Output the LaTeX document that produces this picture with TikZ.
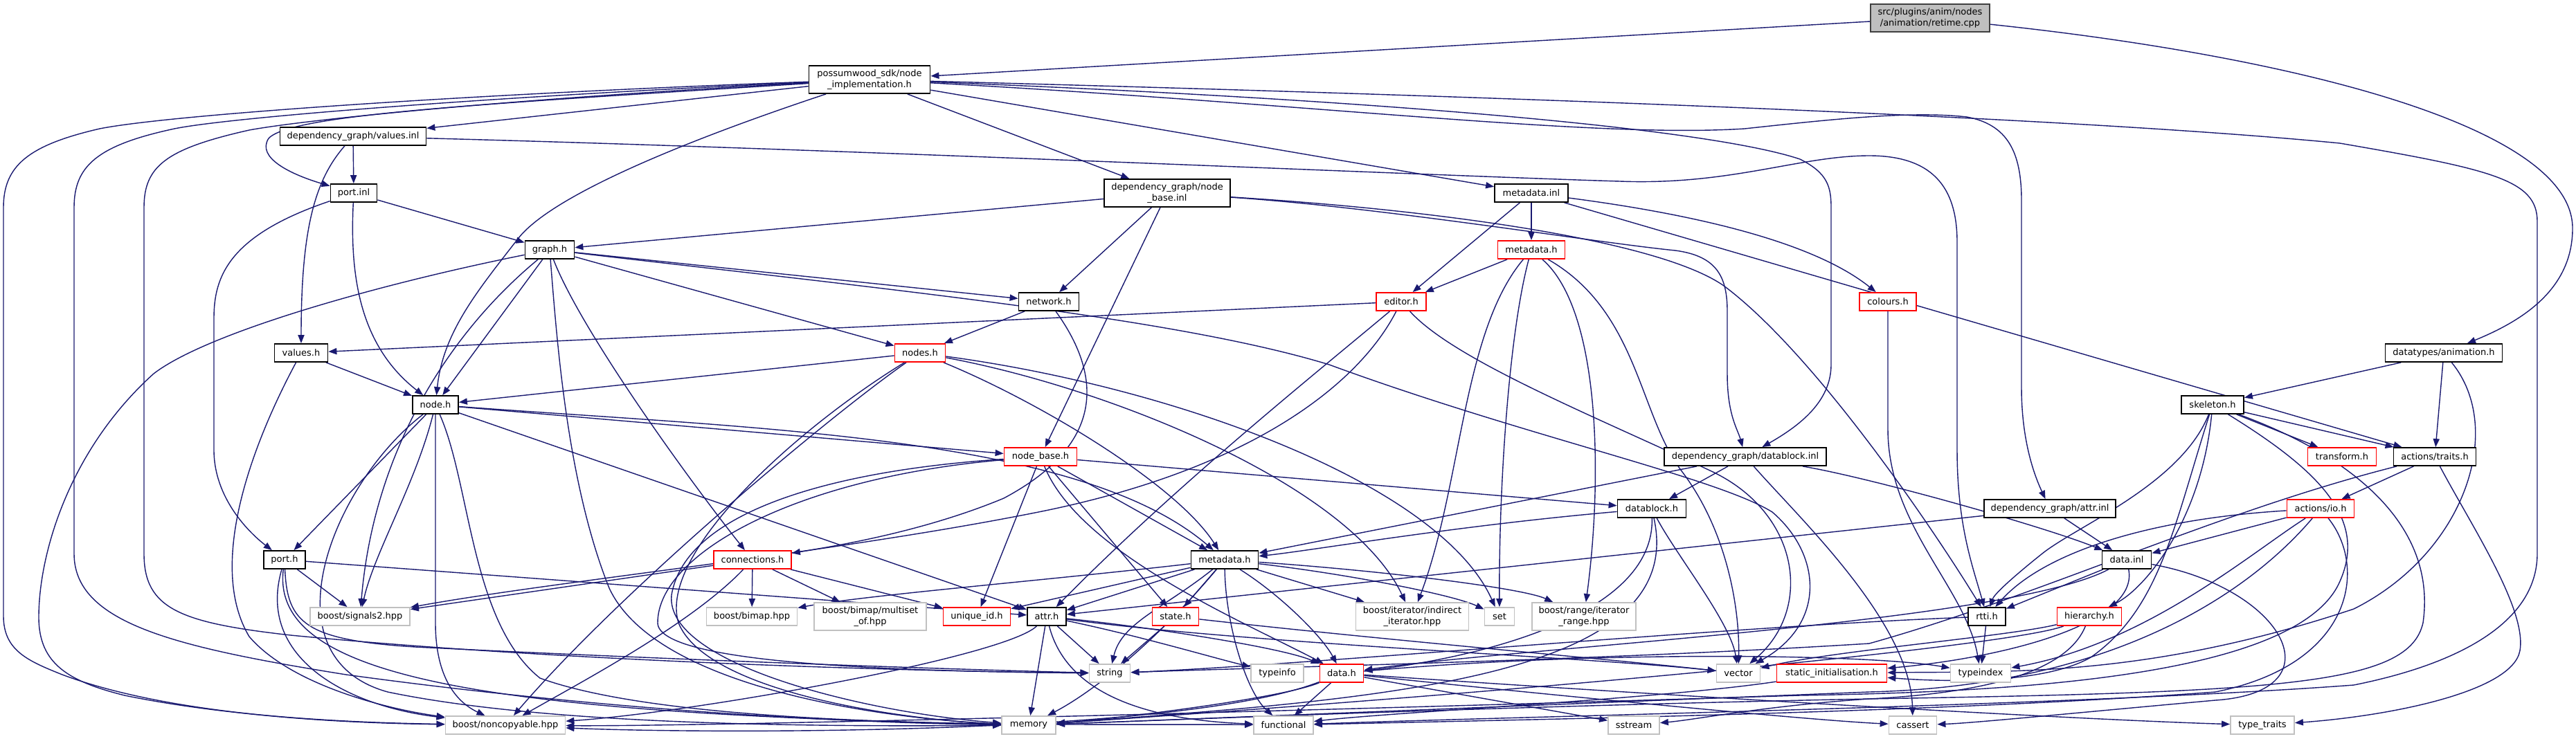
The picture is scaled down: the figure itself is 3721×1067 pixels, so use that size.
\documentclass[tikz,border=0pt]{standalone}
\usepackage{fontspec}
\setmainfont{DejaVu Sans}
\usetikzlibrary{arrows.meta}
\definecolor{edgec}{HTML}{191970}
\definecolor{grayb}{HTML}{C0C0C0}
\definecolor{redb}{HTML}{FF0000}
\definecolor{rootf}{HTML}{BFBFBF}
\begin{document}
\begin{tikzpicture}[x=0.5pt,y=-0.5pt,
  base/.style={rectangle,inner sep=0pt,minimum height=13pt,align=center,font=\fontsize{6.5}{7.6}\selectfont,line width=0.9pt,fill=white},
  two/.style={minimum height=20pt},
  blk/.style={base,draw=black},
  rd/.style={base,draw=redb},
  gy/.style={base,draw=grayb},
  root/.style={base,draw=black!75,fill=rootf},
  e/.style={draw=edgec,line width=0.7pt,-{Triangle[length=6pt,width=4.6pt]}}]
\fill[white] (0,0) rectangle (3721,1067);
\useasboundingbox (0,0) rectangle (3721,1067);
% edges first (drawn under nodes)
\begin{scope}[on background layer/.style={}]
\end{scope}
% ---------- nodes (coordinates) ----------
\path
 node[root,two,minimum width=86pt] (rt) at (2788,26) {src/plugins/anim/nodes\\/animation/retime.cpp}
 node[blk,two,minimum width=87.5pt] (pw) at (1256,115) {possumwood\_sdk/node\\\_implementation.h}
 node[blk,minimum width=105.5pt] (vinl) at (510,197) {dependency\_graph/values.inl}
 node[blk,minimum width=33.5pt] (pinl) at (511,279) {port.inl}
 node[blk,two,minimum width=91pt] (nbinl) at (1686,279) {dependency\_graph/node\\\_base.inl}
 node[blk,minimum width=53pt] (minl) at (2212,279) {metadata.inl}
 node[blk,minimum width=35.5pt] (gh) at (794,361) {graph.h}
 node[blk,minimum width=43.5pt] (nw) at (1515,436) {network.h}
 node[rd,minimum width=48.5pt] (mdr) at (2212,361) {metadata.h}
 node[rd,minimum width=36pt] (ed) at (2024,436) {editor.h}
 node[rd,minimum width=41pt] (col) at (2727,436) {colours.h}
 node[blk,minimum width=38.5pt] (vh) at (435,510) {values.h}
 node[rd,minimum width=36.5pt] (nds) at (1329,510) {nodes.h}
 node[blk,minimum width=84.5pt] (anim) at (3530,510) {datatypes/animation.h}
 node[blk,minimum width=33pt] (nh) at (629,585) {node.h}
 node[blk,minimum width=45pt] (sk) at (3196,585) {skeleton.h}
 node[rd,minimum width=52.5pt] (nbh) at (1503,660) {node\_base.h}
 node[rd,minimum width=49.5pt] (tf) at (3383,660) {transform.h}
 node[blk,minimum width=59.5pt] (tr) at (3517,660) {actions/traits.h}
 node[blk,minimum width=117pt] (dbinl) at (2521,660) {dependency\_graph/datablock.inl}
 node[blk,minimum width=49.5pt] (dbh) at (2386,735) {datablock.h}
 node[blk,minimum width=95pt] (ainl) at (2961,735) {dependency\_graph/attr.inl}
 node[rd,minimum width=48.5pt] (io) at (3352,735) {actions/io.h}
 node[blk,minimum width=30pt] (ph) at (411,809) {port.h}
 node[rd,minimum width=56pt] (con) at (1087,809) {connections.h}
 node[blk,minimum width=48.5pt] (mdb) at (1769,809) {metadata.h}
 node[blk,minimum width=35.5pt] (dinl) at (3072,809) {data.inl}
 node[gy,minimum width=72pt] (sig) at (520,891) {boost/signals2.hpp}
 node[gy,minimum width=65.5pt] (bim) at (1086,891) {boost/bimap.hpp}
 node[gy,two,minimum width=81pt] (mso) at (1257,891) {boost/bimap/multiset\\\_of.hpp}
 node[rd,minimum width=48.5pt] (uid) at (1411,891) {unique\_id.h}
 node[blk,minimum width=28pt] (attr) at (1512,891) {attr.h}
 node[rd,minimum width=33.5pt] (st) at (1698,891) {state.h}
 node[gy,two,minimum width=81.5pt] (ind) at (2040,891) {boost/iterator/indirect\\\_iterator.hpp}
 node[gy,minimum width=21.5pt] (set) at (2166,891) {set}
 node[gy,two,minimum width=75pt] (rng) at (2288,891) {boost/range/iterator\\\_range.hpp}
 node[blk,minimum width=27pt] (rtti) at (2870,891) {rtti.h}
 node[rd,minimum width=46.5pt] (hier) at (3018,891) {hierarchy.h}
 node[gy,minimum width=29.5pt] (str) at (1603,973) {string}
 node[gy,minimum width=38pt] (ti) at (1845,973) {typeinfo}
 node[rd,minimum width=31.5pt] (dh) at (1938,973) {data.h}
 node[gy,minimum width=31.5pt] (vec) at (2511,973) {vector}
 node[rd,minimum width=79.5pt] (si) at (2646,973) {static\_initialisation.h}
 node[gy,minimum width=43.5pt] (tidx) at (2861,973) {typeindex}
 node[gy,minimum width=86.5pt] (nc) at (730,1048) {boost/noncopyable.hpp}
 node[gy,minimum width=39pt] (mem) at (1486,1048) {memory}
 node[gy,minimum width=43pt] (fn) at (1854,1048) {functional}
 node[gy,minimum width=37pt] (ss) at (2360,1048) {sstream}
 node[gy,minimum width=34.5pt] (ca) at (2763,1048) {cassert}
 node[gy,minimum width=46pt] (tt) at (3268,1048) {type\_traits};
% ---------- edges ----------
% retime
\draw[e] (rt) -- (pw);
\draw[e] (rt) .. controls (3300,80) and (3716,180) .. (3716,330) .. controls (3716,420) and (3640,465) .. (anim);
% possumwood
\draw[e] (pw) -- (vinl);
\draw[e] (pw) .. controls (700,150) and (420,165) .. (388,200) .. controls (370,228) and (420,252) .. (pinl);
\draw[e] (pw) .. controls (700,135) and (250,165) .. (144,186) .. controls (40,210) and (5,240) .. (5,300) -- (5,890) .. controls (5,940) and (40,955) .. (90,975) .. controls (250,1035) and (500,1045) .. (nc);
\draw[e] (pw) .. controls (700,140) and (330,170) .. (252,186) .. controls (140,210) and (107,240) .. (107,300) -- (107,800) .. controls (107,900) and (250,935) .. (500,975) .. controls (900,1030) and (1250,1045) .. (mem);
\draw[e] (pw) .. controls (700,145) and (430,175) .. (360,188) .. controls (240,215) and (208,240) .. (208,300) -- (208,800) .. controls (208,880) and (260,900) .. (420,918) .. controls (800,955) and (1300,970) .. (str);
\draw[e] (pw) .. controls (1000,200) and (800,280) .. (749,344) .. controls (690,420) and (640,480) .. (nh);
\draw[e] (pw) -- (nbinl);
\draw[e] (pw) -- (minl);
\draw[e] (pw) .. controls (1900,140) and (2450,180) .. (2600,230) .. controls (2640,250) and (2645,270) .. (2645,300) -- (2645,527) .. controls (2645,580) and (2600,615) .. (dbinl);
\draw[e] (pw) .. controls (1900,150) and (2300,200) .. (2520,186) .. controls (2650,172) and (2760,160) .. (2841,169) .. controls (2900,180) and (2920,220) .. (2920,290) -- (2920,560) .. controls (2920,640) and (2940,690) .. (ainl);
\draw[e] (pw) .. controls (2200,140) and (3000,170) .. (3380,207) .. controls (3600,245) and (3665,260) .. (3665,320) -- (3665,800) .. controls (3665,900) and (3550,960) .. (3400,990) .. controls (3000,1020) and (2200,1035) .. (fn);
% values.inl
\draw[e] (vinl) -- (pinl);
\draw[e] (vinl) .. controls (455,260) and (435,330) .. (vh);
\draw[e] (vinl) .. controls (1200,215) and (2100,255) .. (2340,262) .. controls (2500,268) and (2600,225) .. (2700,225) .. controls (2800,225) and (2827,280) .. (2827,350) -- (2827,650) .. controls (2827,760) and (2850,820) .. (rtti);
% port.inl
\draw[e] (pinl) -- (gh);
\draw[e] (pinl) .. controls (505,400) and (520,500) .. (nh);
\draw[e] (pinl) .. controls (330,340) and (309,400) .. (309,460) -- (309,650) .. controls (309,720) and (360,770) .. (ph);
% node_base.inl
\draw[e] (nbinl) -- (gh);
\draw[e] (nbinl) -- (nw);
\draw[e] (nbinl) -- (nbh);
\draw[e] (nbinl) .. controls (2000,300) and (2300,350) .. (2420,362) .. controls (2480,370) and (2495,400) .. (2495,450) -- (2495,540) .. controls (2495,600) and (2510,620) .. (dbinl);
\draw[e] (nbinl) .. controls (2100,305) and (2400,350) .. (2490,413) .. controls (2620,510) and (2790,760) .. (rtti);
% metadata.inl
\draw[e] (minl) -- (mdr);
\draw[e] (minl) -- (ed);
\draw[e] (minl) .. controls (2450,310) and (2620,350) .. (col);
\draw[e] (minl) -- (tr);
% graph.h
\draw[e] (gh) -- (nh);
\draw[e] (gh) .. controls (650,480) and (540,650) .. (sig);
\draw[e] (gh) .. controls (550,410) and (300,480) .. (222,540) .. controls (100,650) and (56,800) .. (56,892) .. controls (56,960) and (100,985) .. (180,1005) .. controls (350,1040) and (550,1045) .. (nc);
\draw[e] (gh) .. controls (805,500) and (820,700) .. (880,850) .. controls (950,1000) and (1300,1040) .. (mem);
\draw[e] (gh) .. controls (840,480) and (1000,700) .. (con);
\draw[e] (gh) -- (nw);
\draw[e] (gh) -- (nds);
\draw[e] (gh) .. controls (1300,420) and (1700,460) .. (1920,527) .. controls (2200,630) and (2480,690) .. (2560,740) .. controls (2630,800) and (2640,900) .. (vec);
% network.h
\draw[e] (nw) -- (nds);
\draw[e] (nw) .. controls (1590,540) and (1600,640) .. (1450,720) .. controls (1330,770) and (1200,790) .. (con);
% metadata.h (sdk)
\draw[e] (mdr) -- (ed);
\draw[e] (mdr) .. controls (2112,480) and (2112,700) .. (ind);
\draw[e] (mdr) .. controls (2180,480) and (2165,700) .. (set);
\draw[e] (mdr) .. controls (2314,450) and (2314,700) .. (rng);
\draw[e] (mdr) .. controls (2367,450) and (2367,600) .. (2430,682) .. controls (2495,768) and (2513,880) .. (vec);
% editor.h
\draw[e] (ed) -- (vh);
\draw[e] (ed) .. controls (1900,540) and (1700,700) .. (attr);
\draw[e] (ed) .. controls (1960,560) and (1800,680) .. (1500,740) .. controls (1200,800) and (800,840) .. (sig);
\draw[e] (ed) .. controls (2100,520) and (2300,600) .. (2470,680) .. controls (2600,740) and (2620,880) .. (vec);
% colours.h
\draw[e] (col) -- (2727,620) .. controls (2727,760) and (2840,850) .. (tidx);
% values.h
\draw[e] (vh) -- (nh);
\draw[e] (vh) .. controls (360,650) and (300,820) .. (360,920) .. controls (420,990) and (560,1025) .. (nc);
% nodes.h
\draw[e] (nds) -- (nh);
\draw[e] (nds) .. controls (1200,600) and (900,850) .. (nc);
\draw[e] (nds) .. controls (1150,620) and (950,800) .. (980,900) .. controls (1020,1000) and (1300,1040) .. (mem);
\draw[e] (nds) .. controls (1500,580) and (1700,700) .. (mdb);
\draw[e] (nds) .. controls (1600,560) and (1950,700) .. (ind);
\draw[e] (nds) .. controls (1700,560) and (2080,700) .. (set);
% animation.h
\draw[e] (anim) -- (sk);
\draw[e] (anim) -- (tr);
\draw[e] (anim) .. controls (3620,620) and (3560,800) .. (3400,880) .. controls (3100,980) and (2900,970) .. (si);
% node.h
\draw[e] (nh) -- (ph);
\draw[e] (nh) .. controls (600,700) and (540,800) .. (sig);
\draw[e] (nh) -- (629,900) .. controls (629,980) and (660,1015) .. (nc);
\draw[e] (nh) -- (nbh);
\draw[e] (nh) .. controls (1100,620) and (1560,630) .. (mdb);
\draw[e] (nh) -- (attr);
\draw[e] (nh) .. controls (480,700) and (380,950) .. (560,1000) .. controls (800,1050) and (1200,1050) .. (mem);
\draw[e] (nh) .. controls (680,700) and (680,900) .. (780,980) .. controls (1000,1060) and (1600,1045) .. (fn);
% port.h
\draw[e] (ph) -- (sig);
\draw[e] (ph) -- (attr);
\draw[e] (ph) .. controls (370,950) and (500,1020) .. (nc);
\draw[e] (ph) .. controls (390,980) and (700,1030) .. (mem);
\draw[e] (ph) .. controls (415,900) and (440,925) .. (600,935) .. controls (1000,955) and (1400,968) .. (str);
% node_base.h
\draw[e] (nbh) -- (uid);
\draw[e] (nbh) -- (st);
\draw[e] (nbh) -- (mdb);
\draw[e] (nbh) -- (dbh);
\draw[e] (nbh) .. controls (1560,800) and (1800,900) .. (dh);
\draw[e] (nbh) .. controls (1200,680) and (990,740) .. (970,860) .. controls (960,960) and (1250,1030) .. (mem);
\draw[e] (nbh) .. controls (1150,690) and (950,800) .. (950,900) .. controls (950,960) and (1300,970) .. (str);
% connections.h
\draw[e] (con) -- (bim);
\draw[e] (con) -- (mso);
\draw[e] (con) -- (uid);
\draw[e] (con) -- (sig);
\draw[e] (con) .. controls (1000,900) and (850,980) .. (nc);
% metadata.h (dependency_graph)
\draw[e] (mdb) .. controls (1500,840) and (1250,860) .. (bim);
\draw[e] (mdb) -- (uid);
\draw[e] (mdb) -- (attr);
\draw[e] (mdb) -- (st);
\draw[e] (mdb) .. controls (1680,880) and (1620,900) .. (str);
\draw[e] (mdb) .. controls (1770,900) and (1800,1000) .. (fn);
\draw[e] (mdb) -- (ind);
\draw[e] (mdb) .. controls (1950,830) and (2100,860) .. (set);
\draw[e] (mdb) .. controls (2000,825) and (2200,850) .. (rng);
\draw[e] (mdb) .. controls (1850,860) and (1910,920) .. (dh);
\draw[e] (mdb) .. controls (1650,950) and (1560,1010) .. (mem);
% attr.h
\draw[e] (attr) -- (str);
\draw[e] (attr) -- (mem);
\draw[e] (attr) .. controls (1540,1000) and (1650,1040) .. (fn);
\draw[e] (attr) .. controls (1650,920) and (1750,950) .. (ti);
\draw[e] (attr) .. controls (1650,905) and (1850,935) .. (dh);
\draw[e] (attr) .. controls (1450,950) and (1000,1030) .. (nc);
\draw[e] (attr) .. controls (1800,930) and (2300,950) .. (vec);
% state.h
\draw[e] (st) -- (str);
\draw[e] (st) .. controls (2000,925) and (2350,955) .. (vec);
% data.h
\draw[e] (dh) .. controls (1850,1010) and (1600,1040) .. (mem);
\draw[e] (dh) -- (fn);
\draw[e] (dh) -- (ss);
\draw[e] (dh) .. controls (2200,1000) and (2600,1040) .. (ca);
\draw[e] (dh) .. controls (2400,1005) and (3000,1040) .. (tt);
\draw[e] (dh) .. controls (1700,1065) and (1000,1060) .. (nc);
\draw[e] (dh) .. controls (2300,940) and (2700,945) .. (tidx);
% datablock.h
\draw[e] (dbh) .. controls (2100,760) and (1900,795) .. (mdb);
\draw[e] (dbh) .. controls (2420,800) and (2500,900) .. (vec);
\draw[e] (dbh) .. controls (2390,900) and (2100,955) .. (dh);
\draw[e] (dbh) .. controls (2440,980) and (2000,1010) .. (mem);
% datablock.inl
\draw[e] (dbinl) -- (dbh);
\draw[e] (dbinl) -- (mdb);
\draw[e] (dbinl) .. controls (2700,690) and (2950,760) .. (dinl);
\draw[e] (dbinl) .. controls (2600,750) and (2760,900) .. (ca);
% attr.inl
\draw[e] (ainl) -- (attr);
\draw[e] (ainl) -- (dinl);
% rtti.h
\draw[e] (rtti) .. controls (2500,905) and (1900,960) .. (str);
\draw[e] (rtti) -- (tidx);
% hierarchy.h
\draw[e] (hier) .. controls (2900,920) and (2650,940) .. (vec);
\draw[e] (hier) .. controls (2900,935) and (2200,1000) .. (mem);
\draw[e] (hier) .. controls (2990,960) and (2900,1000) .. (2700,1010) .. controls (2550,1020) and (2450,1040) .. (ss);
% data.inl
\draw[e] (dinl) -- (rtti);
\draw[e] (dinl) .. controls (2900,900) and (2200,935) .. (dh);
\draw[e] (dinl) .. controls (3090,900) and (2900,950) .. (si);
\draw[e] (dinl) .. controls (3300,850) and (3380,1000) .. (3200,1012) .. controls (3000,1030) and (2850,1045) .. (ca);
% actions/io.h
\draw[e] (io) -- (dinl);
\draw[e] (io) .. controls (3100,750) and (2950,800) .. (rtti);
\draw[e] (io) .. controls (3250,800) and (3100,930) .. (tidx);
\draw[e] (io) .. controls (3280,820) and (3100,990) .. (2700,1000) .. controls (2200,1020) and (1700,1040) .. (mem);
\draw[e] (io) .. controls (3420,820) and (3400,960) .. (3200,1000) .. controls (2800,1030) and (2200,1040) .. (fn);
% skeleton.h
\draw[e] (sk) -- (tf);
\draw[e] (sk) -- (tr);
\draw[e] (sk) .. controls (3180,750) and (3100,850) .. (hier);
\draw[e] (sk) .. controls (3150,700) and (3000,760) .. (2950,800) .. controls (2900,840) and (2880,860) .. (rtti);
\draw[e] (sk) .. controls (3140,760) and (3120,880) .. (3020,950) .. controls (2950,990) and (2800,985) .. (si);
\draw[e] (sk) .. controls (3350,680) and (3420,750) .. (3380,840) .. controls (3320,980) and (2900,1000) .. (2600,1005) .. controls (1800,1030) and (1000,1050) .. (nc);
\draw[e] (sk) .. controls (3400,660) and (3520,760) .. (3500,900) .. controls (3480,990) and (3300,1000) .. (2700,1010) .. controls (2200,1020) and (1700,1040) .. (mem);
% actions/traits.h
\draw[e] (tr) -- (io);
\draw[e] (tr) .. controls (3570,760) and (3650,880) .. (3640,940) .. controls (3630,1000) and (3450,1035) .. (tt);
\draw[e] (tr) .. controls (3200,740) and (2950,860) .. (2700,930) .. controls (2300,955) and (1800,965) .. (str);
% static_initialisation.h
\draw[e] (si) .. controls (2400,1010) and (2000,1030) .. (fn);
% redraw nodes on top
\path
 node[root,two,minimum width=86pt] at (2788,26) {src/plugins/anim/nodes\\/animation/retime.cpp}
 node[blk,two,minimum width=87.5pt] at (1256,115) {possumwood\_sdk/node\\\_implementation.h}
 node[blk,minimum width=105.5pt] at (510,197) {dependency\_graph/values.inl}
 node[blk,minimum width=33.5pt] at (511,279) {port.inl}
 node[blk,two,minimum width=91pt] at (1686,279) {dependency\_graph/node\\\_base.inl}
 node[blk,minimum width=53pt] at (2212,279) {metadata.inl}
 node[blk,minimum width=35.5pt] at (794,361) {graph.h}
 node[blk,minimum width=43.5pt] at (1515,436) {network.h}
 node[rd,minimum width=48.5pt] at (2212,361) {metadata.h}
 node[rd,minimum width=36pt] at (2024,436) {editor.h}
 node[rd,minimum width=41pt] at (2727,436) {colours.h}
 node[blk,minimum width=38.5pt] at (435,510) {values.h}
 node[rd,minimum width=36.5pt] at (1329,510) {nodes.h}
 node[blk,minimum width=84.5pt] at (3530,510) {datatypes/animation.h}
 node[blk,minimum width=33pt] at (629,585) {node.h}
 node[blk,minimum width=45pt] at (3196,585) {skeleton.h}
 node[rd,minimum width=52.5pt] at (1503,660) {node\_base.h}
 node[rd,minimum width=49.5pt] at (3383,660) {transform.h}
 node[blk,minimum width=59.5pt] at (3517,660) {actions/traits.h}
 node[blk,minimum width=117pt] at (2521,660) {dependency\_graph/datablock.inl}
 node[blk,minimum width=49.5pt] at (2386,735) {datablock.h}
 node[blk,minimum width=95pt] at (2961,735) {dependency\_graph/attr.inl}
 node[rd,minimum width=48.5pt] at (3352,735) {actions/io.h}
 node[blk,minimum width=30pt] at (411,809) {port.h}
 node[rd,minimum width=56pt] at (1087,809) {connections.h}
 node[blk,minimum width=48.5pt] at (1769,809) {metadata.h}
 node[blk,minimum width=35.5pt] at (3072,809) {data.inl}
 node[gy,minimum width=72pt] at (520,891) {boost/signals2.hpp}
 node[gy,minimum width=65.5pt] at (1086,891) {boost/bimap.hpp}
 node[gy,two,minimum width=81pt] at (1257,891) {boost/bimap/multiset\\\_of.hpp}
 node[rd,minimum width=48.5pt] at (1411,891) {unique\_id.h}
 node[blk,minimum width=28pt] at (1512,891) {attr.h}
 node[rd,minimum width=33.5pt] at (1698,891) {state.h}
 node[gy,two,minimum width=81.5pt] at (2040,891) {boost/iterator/indirect\\\_iterator.hpp}
 node[gy,minimum width=21.5pt] at (2166,891) {set}
 node[gy,two,minimum width=75pt] at (2288,891) {boost/range/iterator\\\_range.hpp}
 node[blk,minimum width=27pt] at (2870,891) {rtti.h}
 node[rd,minimum width=46.5pt] at (3018,891) {hierarchy.h}
 node[gy,minimum width=29.5pt] at (1603,973) {string}
 node[gy,minimum width=38pt] at (1845,973) {typeinfo}
 node[rd,minimum width=31.5pt] at (1938,973) {data.h}
 node[gy,minimum width=31.5pt] at (2511,973) {vector}
 node[rd,minimum width=79.5pt] at (2646,973) {static\_initialisation.h}
 node[gy,minimum width=43.5pt] at (2861,973) {typeindex}
 node[gy,minimum width=86.5pt] at (730,1048) {boost/noncopyable.hpp}
 node[gy,minimum width=39pt] at (1486,1048) {memory}
 node[gy,minimum width=43pt] at (1854,1048) {functional}
 node[gy,minimum width=37pt] at (2360,1048) {sstream}
 node[gy,minimum width=34.5pt] at (2763,1048) {cassert}
 node[gy,minimum width=46pt] at (3268,1048) {type\_traits};
\end{tikzpicture}
\end{document}
